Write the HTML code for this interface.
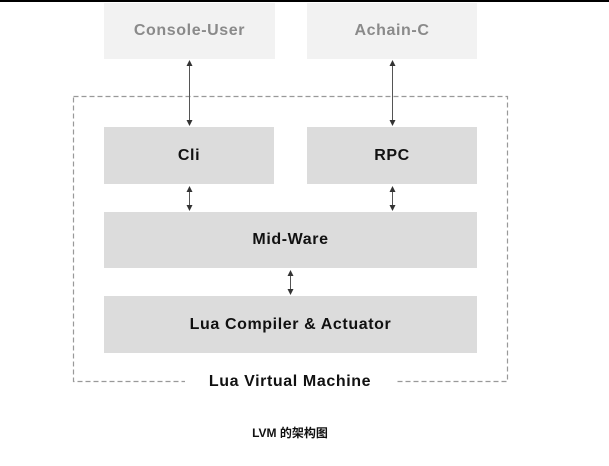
<!DOCTYPE html>
<html><head><style>
body{margin:0;width:609px;height:466px;background:#fff;overflow:hidden;position:relative;font-family:"Liberation Sans","Noto Sans CJK SC",sans-serif;}
.b{position:absolute;display:flex;align-items:center;justify-content:center;font-weight:bold;font-size:16px;letter-spacing:0.6px;}
.t{background:#f2f2f2;color:#8a8a8a;}
.m{background:#dcdcdc;color:#111;}
</style></head><body>
<div style="position:absolute;left:0;top:0;width:609px;height:2px;background:#000"></div>
<div class="b t" style="left:104px;top:3px;width:171px;height:56px">Console-User</div>
<div class="b t" style="left:307px;top:3px;width:170px;height:56px">Achain-C</div>
<svg width="609" height="466" style="position:absolute;left:0;top:0">
<rect x="73.5" y="96.5" width="434" height="285" fill="none" stroke="#999" stroke-width="1.2" stroke-dasharray="5,3"/>
</svg>
<div class="b m" style="left:104px;top:127px;width:170px;height:57px">Cli</div>
<div class="b m" style="left:307px;top:127px;width:170px;height:57px">RPC</div>
<div class="b m" style="left:104px;top:212px;width:373px;height:56px">Mid-Ware</div>
<div class="b m" style="left:104px;top:296px;width:373px;height:57px">Lua Compiler &amp; Actuator</div>
<div class="b" style="left:185px;top:371px;width:210px;height:22px;background:#fff;color:#111;font-size:16px">Lua Virtual Machine</div>
<div class="b" style="left:190px;top:422px;width:200px;height:20px;font-size:12px;color:#111;letter-spacing:0">LVM 的架构图</div>
<svg width="609" height="466" style="position:absolute;left:0;top:0">
<defs><marker id="a" markerWidth="6" markerHeight="6" refX="5" refY="3" orient="auto-start-reverse"><path d="M0,0 L6,3 L0,6 z" fill="#333"/></marker></defs>
<g stroke="#555" stroke-width="1" marker-start="url(#a)" marker-end="url(#a)">
<line x1="189.5" y1="61" x2="189.5" y2="125"/>
<line x1="392.5" y1="61" x2="392.5" y2="125"/>
<line x1="189.5" y1="187" x2="189.5" y2="210"/>
<line x1="392.5" y1="187" x2="392.5" y2="210"/>
<line x1="290.5" y1="271" x2="290.5" y2="294"/>
</g></svg>
</body></html>
